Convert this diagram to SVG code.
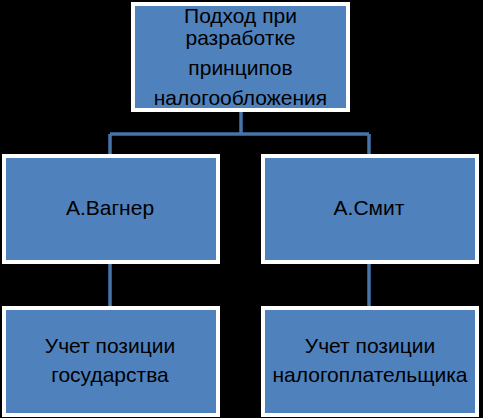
<svg xmlns="http://www.w3.org/2000/svg" width="483" height="418" viewBox="0 0 483 418">
<style>
.box{fill:#4F81BD;stroke:#FFFFFF;stroke-width:4}
.lbl{font-family:"Liberation Sans",Arial,sans-serif;font-size:21px;fill:#000000;text-anchor:middle}
.con{stroke:#4774A9;stroke-width:3.5;fill:none}
</style>
<rect x="0" y="0" width="483" height="418" fill="#000000"/>
<g id="connectors">
<path class="con" d="M241 112 V134 M110 134 H369 M110 134 V154 M369 134 V154 M110 264 V306 M369 264 V306"/>
</g>
<g id="n-root">
<rect class="box" x="133" y="4" width="215" height="106"/>
<text class="lbl" x="240.5" y="23">Подход при</text>
<text class="lbl" x="240.5" y="45">разработке</text>
<text class="lbl" x="240.5" y="75">принципов</text>
<text class="lbl" x="240.5" y="105">налогообложения</text>
</g>
<g id="n-wagner">
<rect class="box" x="4" y="156" width="214" height="106"/>
<text class="lbl" x="110" y="215">А.Вагнер</text>
</g>
<g id="n-smith">
<rect class="box" x="263" y="156" width="214" height="106"/>
<text class="lbl" x="369" y="215">А.Смит</text>
</g>
<g id="n-state">
<rect class="box" x="4" y="308" width="214" height="107"/>
<text class="lbl" x="110" y="353">Учет позиции</text>
<text class="lbl" x="110" y="382">государства</text>
</g>
<g id="n-payer">
<rect class="box" x="263" y="308" width="214" height="107"/>
<text class="lbl" x="370" y="353">Учет позиции</text>
<text class="lbl" x="370" y="382">налогоплательщика</text>
</g>
</svg>
